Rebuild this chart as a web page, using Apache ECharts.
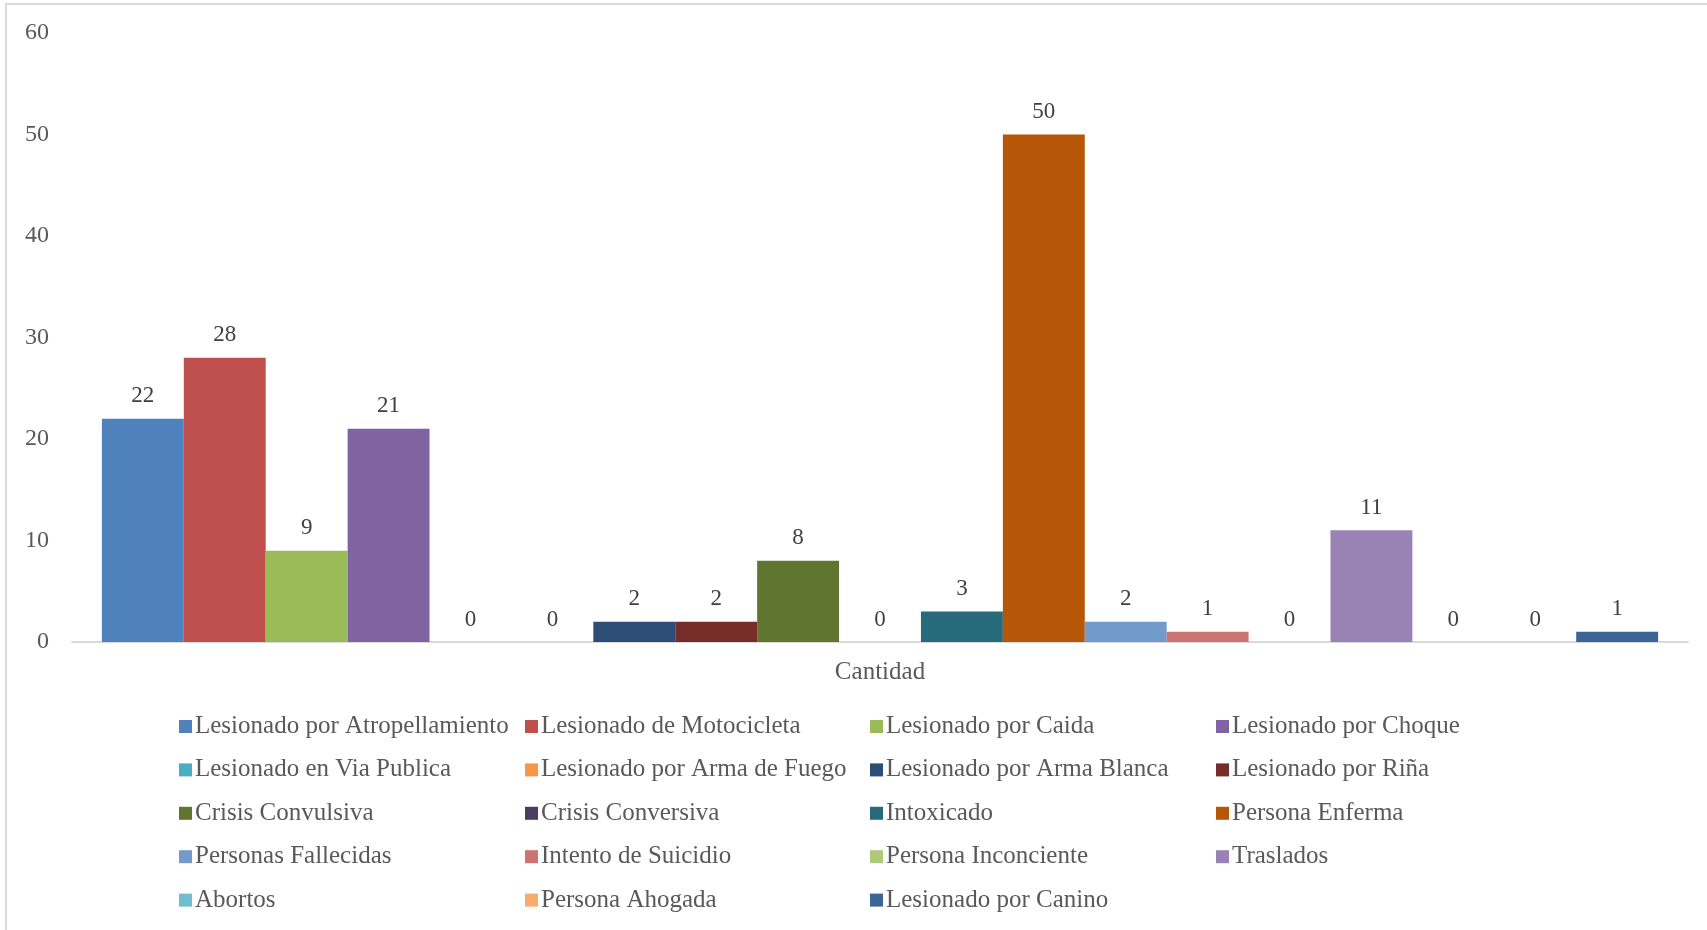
<!DOCTYPE html>
<html>
<head>
<meta charset="utf-8">
<script src="https://cdn.jsdelivr.net/npm/echarts@6/dist/echarts.min.js"></script>
<style>
  html, body { margin: 0; padding: 0; background: #fff; }
  #container { width: 1707px; height: 930px; }
</style>
</head>
<body>
<div id="container"></div>
<script>
// datos
var categorias = ['Cantidad'];
var nombres = [
  'Lesionado por Atropellamiento', 'Lesionado de Motocicleta', 'Lesionado por Caida', 'Lesionado por Choque',
  'Lesionado en Via Publica', 'Lesionado por Arma de Fuego', 'Lesionado por Arma Blanca', 'Lesionado por Riña',
  'Crisis Convulsiva', 'Crisis Conversiva', 'Intoxicado', 'Persona Enferma',
  'Personas Fallecidas', 'Intento de Suicidio', 'Persona Inconciente', 'Traslados',
  'Abortos', 'Persona Ahogada', 'Lesionado por Canino'
];
var valores = [22, 28, 9, 21, 0, 0, 2, 2, 8, 0, 3, 50, 2, 1, 0, 11, 0, 0, 1];
var yTicks = [0, 10, 20, 30, 40, 50, 60];

// paleta tipo Excel
var colores = [
  '#4F81BD', '#C0504D', '#9BBB59', '#8064A2',
  '#4BACC6', '#F79646', '#2C4D75', '#772C2A',
  '#5F7530', '#4D3B62', '#276A7C', '#B65708',
  '#729ACA', '#CD7371', '#AFC97A', '#9983B5',
  '#6FBDD1', '#F9AB6B', '#3A6595'
];

var fuente = '"Liberation Serif", "DejaVu Serif", serif';

var dom = document.getElementById('container');
var myChart = echarts.init(dom);

var series = [];
for (var i = 0; i < nombres.length; i++) {
  series.push({
    name: nombres[i],
    type: 'bar',
    data: [valores[i]],
    barGap: '0%',
    barCategoryGap: '3.7%',
    itemStyle: { color: colores[i] },
    label: {
      show: true,
      position: 'top',
      distance: 11,
      color: '#404040',
      fontFamily: fuente,
      fontSize: 23
    }
  });
}

// leyenda en 4 columnas
var colX = [179, 525, 870, 1216];
var leyendas = [];
for (var c = 0; c < 4; c++) {
  var items = [];
  for (var j = c; j < nombres.length; j += 4) items.push(nombres[j]);
  leyendas.push({
    orient: 'vertical',
    left: colX[c],
    top: 714,
    padding: 0,
    itemWidth: 13,
    itemHeight: 13,
    itemGap: 18.4,
    icon: 'rect',
    selectedMode: false,
    data: items,
    textStyle: {
      color: '#595959',
      fontFamily: fuente,
      fontSize: 25,
      lineHeight: 24,
      padding: [0, 0, 0, -2]
    }
  });
}

myChart.setOption({
  animation: false,
  backgroundColor: '#fff',
  textStyle: { fontFamily: fuente },
  grid: { left: 72, right: 19, top: 33, bottom: 288 },
  legend: leyendas,
  xAxis: {
    type: 'category',
    data: categorias,
    axisTick: { show: false },
    axisLine: { lineStyle: { color: '#D9D9D9', width: 2 } },
    axisLabel: { color: '#595959', fontFamily: fuente, fontSize: 25, margin: 18 }
  },
  yAxis: {
    type: 'value',
    min: yTicks[0],
    max: yTicks[yTicks.length - 1],
    interval: 10,
    splitLine: { show: false },
    axisLine: { show: false },
    axisTick: { show: false },
    axisLabel: { color: '#595959', fontFamily: fuente, fontSize: 24, margin: 23 }
  },
  graphic: [
    { type: 'line', shape: { x1: 5, y1: 4, x2: 1707, y2: 4 }, style: { stroke: '#D9D9D9', lineWidth: 2 } },
    { type: 'line', shape: { x1: 6, y1: 4, x2: 6, y2: 930 }, style: { stroke: '#D9D9D9', lineWidth: 2 } }
  ],
  series: series
});
</script>
</body>
</html>
